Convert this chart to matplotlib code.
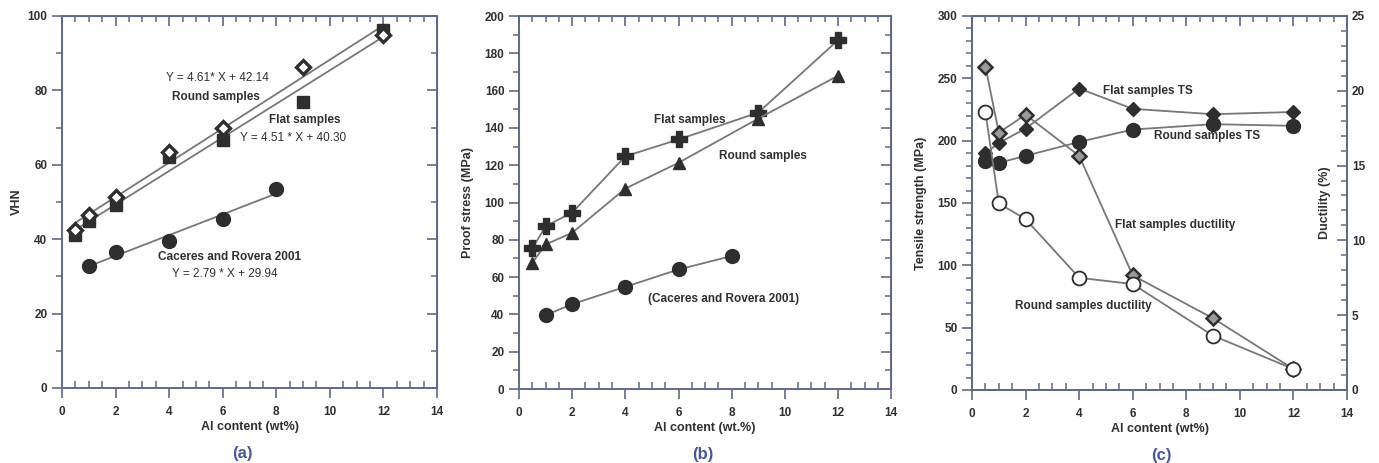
import matplotlib
matplotlib.use('Agg')
import matplotlib.pyplot as plt
from matplotlib.ticker import MultipleLocator

plt.rcParams['font.family'] = ['Liberation Sans', 'DejaVu Sans']
plt.rcParams['font.size'] = 8.5
plt.rcParams['font.weight'] = 'bold'
plt.rcParams['axes.labelweight'] = 'bold'
plt.rcParams['axes.labelsize'] = 9

# ---- data (a) hardness
x_a = [0.5, 1, 2, 4, 6, 9, 12]
round_vhn = [42.5, 46.5, 51.4, 63.5, 70, 86.3, 95]
flat_vhn = [41, 45, 49.2, 62.2, 66.6, 76.9, 96.3]
x_cr = [1, 2, 4, 6, 8]
cr_vhn = [32.9, 36.5, 39.6, 45.4, 53.6]
# fitted lines as printed on the chart (slope, intercept, x range)
fit_round = (4.61, 42.14, 0.5, 12)
fit_flat = (4.51, 40.30, 0.5, 12)
fit_cr = (2.79, 29.94, 1, 8)

# ---- data (b) proof stress
x_b = [0.5, 1, 2, 4, 6, 9, 12]
flat_ps = [75.4, 87.3, 94.6, 124.8, 133.8, 148.2, 187]
round_ps = [67.7, 77.5, 83.8, 107.5, 121.3, 145, 168]
cr_ps = [39.6, 45.5, 54.8, 64.1, 71.3]

# ---- data (c) tensile strength and ductility
x_c = [0.5, 1, 2, 4, 6, 9, 12]
flat_ts = [189.7, 198.2, 209.7, 241.8, 225.5, 221.2, 223]
round_ts = [183.8, 182.2, 187.8, 199, 208.9, 213.2, 211.9]
flat_duct = [21.6, 17.2, 18.4, 15.65, 7.66, 4.79, 1.4]
round_duct = [18.57, 12.47, 11.42, 7.5, 7.08, 3.63, 1.4]

SPINE = '#5d6a8c'
LINE = '#777777'
MK = '#2e2e2e'
TXT = '#303030'
BLUE = '#4656a6'

fig = plt.figure(figsize=(13.79, 4.63), dpi=100)


def style_axes(ax, xmax, ymax, ymaj, ymin, right_ticks=True):
    ax.set_xlim(0, xmax)
    ax.set_ylim(0, ymax)
    ax.xaxis.set_major_locator(MultipleLocator(2))
    ax.xaxis.set_minor_locator(MultipleLocator(0.5))
    ax.yaxis.set_major_locator(MultipleLocator(ymaj))
    ax.yaxis.set_minor_locator(MultipleLocator(ymin))
    for s in ax.spines.values():
        s.set_color(SPINE)
        s.set_linewidth(1.4)
    ax.tick_params(axis='y', which='major', direction='out', length=7, width=1.2, color=SPINE, labelcolor=TXT)
    ax.tick_params(axis='y', which='minor', direction='out', length=4, width=1.1, color=SPINE)
    ax.tick_params(axis='x', which='major', direction='out', length=7, width=1.2, color=SPINE, labelcolor=TXT, pad=6)
    ax.tick_params(axis='x', which='minor', direction='in', length=5, width=1.1, color=SPINE)
    top = ax.secondary_xaxis('top')
    top.xaxis.set_major_locator(MultipleLocator(2))
    top.xaxis.set_minor_locator(MultipleLocator(0.5))
    top.tick_params(which='major', direction='in', length=7, width=1.2, color=SPINE, labeltop=False)
    top.tick_params(which='minor', direction='in', length=4, width=1.1, color=SPINE)
    top.spines['top'].set_color(SPINE)
    if right_ticks:
        r = ax.secondary_yaxis('right')
        r.yaxis.set_major_locator(MultipleLocator(ymaj))
        r.yaxis.set_minor_locator(MultipleLocator(ymin))
        r.tick_params(which='major', direction='in', length=7, width=1.2, color=SPINE, labelright=False)
        r.tick_params(which='minor', direction='in', length=4, width=1.1, color=SPINE)
        r.spines['right'].set_color(SPINE)


def fit_xy(fit):
    k, b, x0, x1 = fit
    return [x0, x1], [k * x0 + b, k * x1 + b]


# ================= (a)
ax1 = fig.add_axes([0.0450, 0.1620, 0.2719, 0.8035])
style_axes(ax1, 14, 100, 20, 10)
for f in (fit_round, fit_flat, fit_cr):
    fx, fy = fit_xy(f)
    ax1.plot(fx, fy, color=LINE, lw=1.3, zorder=2)
ax1.plot(x_a, flat_vhn, ls='none', marker='s', ms=9, color=MK, mec=MK, zorder=3)
ax1.plot(x_a, round_vhn, ls='none', marker='D', ms=7, mfc='white', mec=MK, mew=2.4, zorder=4)
ax1.plot(x_cr, cr_vhn, ls='none', marker='o', ms=10, color=MK, zorder=3)
ax1.set_xlabel('Al content (wt%)', color=TXT, labelpad=2)
ax1.set_ylabel('VHN', color=TXT)
ax1.yaxis.set_label_coords(-0.105, 0.5)
ax1.text(5.79, 83.3, 'Y = 4.61* X + 42.14', ha='center', va='center', color=TXT, fontweight='normal')
ax1.text(5.75, 78.2, 'Round samples', ha='center', va='center', color=TXT)
ax1.text(9.07, 72.0, 'Flat samples', ha='center', va='center', color=TXT)
ax1.text(8.63, 67.2, 'Y = 4.51 * X + 40.30', ha='center', va='center', color=TXT, fontweight='normal')
ax1.text(6.24, 35.2, 'Caceres and Rovera 2001', ha='center', va='center', color=TXT)
ax1.text(6.08, 30.6, 'Y = 2.79 * X + 29.94', ha='center', va='center', color=TXT, fontweight='normal')
ax1.text(0.48, -0.175, '(a)', transform=ax1.transAxes, ha='center', va='center', color=BLUE, fontsize=12)

# ================= (b)
ax2 = fig.add_axes([0.3764, 0.1598, 0.2698, 0.8056])
style_axes(ax2, 14, 200, 20, 10)
ax2.plot(x_b, flat_ps, color=LINE, lw=1.3, marker='P', ms=11, mfc=MK, mec=MK, zorder=3)
ax2.plot(x_b, round_ps, color=LINE, lw=1.3, marker='^', ms=8, mfc=MK, mec=MK, zorder=3)
ax2.plot(x_cr, cr_ps, color=LINE, lw=1.3, marker='o', ms=10, mfc=MK, mec=MK, zorder=3)
ax2.set_xlabel('Al content (wt.%)', color=TXT, labelpad=2)
ax2.set_ylabel('Proof stress (MPa)', color=TXT)
ax2.yaxis.set_label_coords(-0.12, 0.5)
ax2.text(6.43, 144.2, 'Flat samples', ha='center', va='center', color=TXT)
ax2.text(9.18, 125.0, 'Round samples', ha='center', va='center', color=TXT)
ax2.text(7.68, 48.3, '(Caceres and Rovera 2001)', ha='center', va='center', color=TXT)
ax2.text(0.495, -0.175, '(b)', transform=ax2.transAxes, ha='center', va='center', color=BLUE, fontsize=12)

# ================= (c)
ax3 = fig.add_axes([0.7049, 0.1577, 0.2719, 0.8078])
style_axes(ax3, 14, 300, 50, 10, right_ticks=False)
ax3.plot(x_c, flat_ts, color=LINE, lw=1.3, marker='D', ms=7, mfc=MK, mec=MK, zorder=3)
ax3.plot(x_c, round_ts, color=LINE, lw=1.3, marker='o', ms=10, mfc=MK, mec=MK, zorder=3)
ax3.set_xlabel('Al content (wt%)', color=TXT, labelpad=2)
ax3.set_ylabel('Tensile strength (MPa)', color=TXT)
ax3.yaxis.set_label_coords(-0.12, 0.5)

ax4 = ax3.twinx()
ax4.set_ylim(0, 25)
ax4.yaxis.set_major_locator(MultipleLocator(5))
ax4.yaxis.set_minor_locator(MultipleLocator(1))
ax4.tick_params(which='major', direction='in', length=7, width=1.2, color=SPINE, labelcolor=TXT)
ax4.tick_params(which='minor', direction='in', length=4, width=1.1, color=SPINE)
for s in ax4.spines.values():
    s.set_color(SPINE)
    s.set_linewidth(1.4)
ax4.plot(x_c, flat_duct, color=LINE, lw=1.3, marker='D', ms=7, mfc='#9a9a9a', mec=MK, mew=1.8, zorder=3)
ax4.plot(x_c, round_duct, color=LINE, lw=1.3, marker='o', ms=10, mfc='white', mec=MK, mew=1.3, zorder=3)
ax4.set_ylabel('Ductility (%)', color=TXT, rotation=90)
# the reference puts this label inside the frame, next to the right spine
ax4.yaxis.set_label_coords(0.925, 0.5)

ax3.text(6.57, 239.8, 'Flat samples TS', ha='center', va='center', color=TXT)
ax3.text(8.77, 203.7, 'Round samples TS', ha='center', va='center', color=TXT)
ax3.text(7.58, 132.4, 'Flat samples ductility', ha='center', va='center', color=TXT)
ax3.text(4.14, 67.4, 'Round samples ductility', ha='center', va='center', color=TXT)
ax3.text(0.505, -0.175, '(c)', transform=ax3.transAxes, ha='center', va='center', color=BLUE, fontsize=12)

fig.savefig('out.png', dpi=100, facecolor='white')
